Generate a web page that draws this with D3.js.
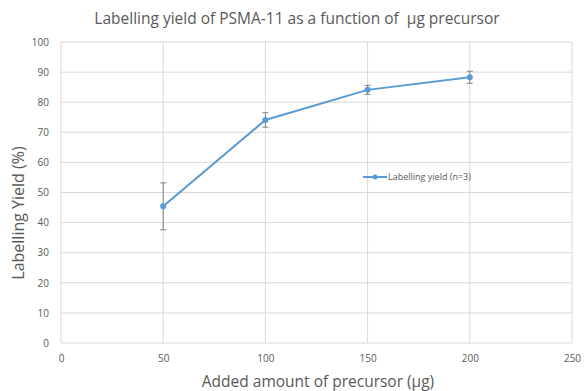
<!DOCTYPE html>
<html>
<head>
<meta charset="utf-8">
<script src="https://cdn.jsdelivr.net/npm/d3@7"></script>
<style>
  body { margin: 0; background: #fff; }
  text { font-family: "Open Sans", "Liberation Sans", sans-serif; }
</style>
</head>
<body>
<div id="chart"></div>
<script>
// data
const amounts = [50, 100, 150, 200];
const yields = [45.4, 74.1, 84.1, 88.3];
const errors = [7.8, 2.4, 1.5, 2.0];
const xTicks = [0, 50, 100, 150, 200, 250];
const yTicks = [0, 10, 20, 30, 40, 50, 60, 70, 80, 90, 100];

const width = 585,
  height = 391;
const margin = { top: 42, right: 13, bottom: 48, left: 61 };

const svg = d3
  .select("#chart")
  .append("svg")
  .attr("width", width)
  .attr("height", height);

const x = d3.scaleLinear().domain([0, 250]).range([margin.left, width - margin.right]);
const y = d3.scaleLinear().domain([0, 100]).range([height - margin.bottom, margin.top]);

// Gridlines
svg.append("g")
  .selectAll("line")
  .data(yTicks)
  .join("line")
  .attr("x1", x(0))
  .attr("x2", x(250))
  .attr("y1", (d) => y(d))
  .attr("y2", (d) => y(d))
  .attr("stroke", "#d9d9d9")
  .attr("stroke-width", 1);

svg.append("g")
  .selectAll("line")
  .data(xTicks)
  .join("line")
  .attr("x1", (d) => x(d))
  .attr("x2", (d) => x(d))
  .attr("y1", y(0))
  .attr("y2", y(100))
  .attr("stroke", "#d9d9d9")
  .attr("stroke-width", 1);

// Axes
const xAxis = svg.append("g")
  .attr("transform", `translate(0,${y(0)})`)
  .call(d3.axisBottom(x).tickValues(xTicks).tickSize(0).tickPadding(12));
const yAxis = svg.append("g")
  .attr("transform", `translate(${x(0) - 2},0)`)
  .call(d3.axisLeft(y).tickValues(yTicks).tickSize(0).tickPadding(10));
[xAxis, yAxis].forEach((a) => {
  a.select(".domain").remove();
  a.selectAll("text").attr("fill", "#595959").style("font-size", "10px");
});

// Line
const pts = amounts.map((a, i) => ({ a, v: yields[i], e: errors[i] }));
svg.append("path")
  .datum(pts)
  .attr("fill", "none")
  .attr("stroke", "#5b9bd5")
  .attr("stroke-width", 2)
  .attr("d", d3.line().x((d) => x(d.a)).y((d) => y(d.v)));

// Error bars
const eb = svg.append("g").attr("stroke", "#808080").attr("stroke-width", 1);
eb.selectAll(".stem")
  .data(pts)
  .join("line")
  .attr("x1", (d) => x(d.a))
  .attr("x2", (d) => x(d.a))
  .attr("y1", (d) => y(d.v + d.e))
  .attr("y2", (d) => y(d.v - d.e));
eb.selectAll(".capT")
  .data(pts)
  .join("line")
  .attr("x1", (d) => x(d.a) - 3)
  .attr("x2", (d) => x(d.a) + 3)
  .attr("y1", (d) => y(d.v + d.e))
  .attr("y2", (d) => y(d.v + d.e));
eb.selectAll(".capB")
  .data(pts)
  .join("line")
  .attr("x1", (d) => x(d.a) - 3)
  .attr("x2", (d) => x(d.a) + 3)
  .attr("y1", (d) => y(d.v - d.e))
  .attr("y2", (d) => y(d.v - d.e));

// Markers
svg.append("g")
  .selectAll("circle")
  .data(pts)
  .join("circle")
  .attr("cx", (d) => x(d.a))
  .attr("cy", (d) => y(d.v))
  .attr("r", 3)
  .attr("fill", "#5b9bd5");

// Legend
const lg = svg.append("g").attr("transform", "translate(363,177)");
lg.append("line").attr("x1", 0).attr("x2", 24).attr("stroke", "#5b9bd5").attr("stroke-width", 2);
lg.append("circle").attr("cx", 12).attr("r", 2.5).attr("fill", "#5b9bd5");
lg.append("text")
  .attr("x", 25)
  .attr("dy", "0.35em")
  .attr("fill", "#595959")
  .style("font-size", "9px")
  .text("Labelling yield (n=3)");

// Titles
svg.append("text")
  .attr("x", 297)
  .attr("y", 24)
  .attr("text-anchor", "middle")
  .attr("fill", "#595959")
  .style("font-size", "15.5px")
  .style("white-space", "pre")
  .text("Labelling yield of PSMA-11 as a function of  µg precursor");

svg.append("text")
  .attr("x", 318)
  .attr("y", 387)
  .attr("text-anchor", "middle")
  .attr("fill", "#595959")
  .style("font-size", "15.5px")
  .text("Added amount of precursor (µg)");

svg.append("text")
  .attr("transform", "translate(24,213) rotate(-90)")
  .attr("text-anchor", "middle")
  .attr("fill", "#595959")
  .style("font-size", "16px")
  .text("Labelling Yield (%)");
</script>
</body>
</html>
